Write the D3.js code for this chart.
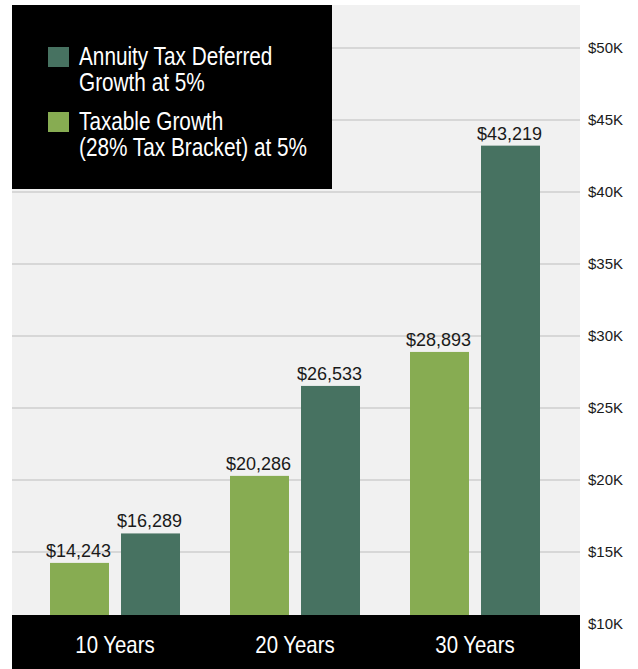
<!DOCTYPE html>
<html>
<head>
<meta charset="utf-8">
<script src="https://cdn.jsdelivr.net/npm/d3@7"></script>
<style>
  body { margin: 0; background: #fff; }
  .narrow { font-family: "Liberation Sans", Arial, sans-serif; }
  .y.axis text { font-family: "Liberation Sans", Arial, sans-serif; font-size: 15px; fill: #1a1a1a; }
</style>
</head>
<body>
<script>
// data
var categories = ["10 Years", "20 Years", "30 Years"];
var taxable = [14243, 20286, 28893];
var annuity = [16289, 26533, 43219];
var yTicks = [10000, 15000, 20000, 25000, 30000, 35000, 40000, 45000, 50000];
var seriesNames = ["Annuity Tax Deferred|Growth at 5%", "Taxable Growth|(28% Tax Bracket) at 5%"];

var W = 638, H = 669;
var plot = {left: 12, right: 580, top: 5, bottom: 615};
var colors = {taxable: "#87ac52", annuity: "#477261"};

// fake a condensed face, no narrow font installed
function condense(squeeze){
    return function(sel){
        sel.each(function(){
            var len = this.getComputedTextLength();
            d3.select(this)
              .attr("textLength", len * squeeze)
              .attr("lengthAdjust", "spacingAndGlyphs");
        });
    };
}

var svg = d3.select("body").append("svg")
    .attr("width", W)
    .attr("height", H);

// plot background
svg.append("rect")
    .attr("x", plot.left).attr("y", plot.top)
    .attr("width", plot.right - plot.left)
    .attr("height", H - plot.top)
    .attr("fill", "#f1f1f1");

var yScale = d3.scaleLinear().domain([10000, 50000]).range([624, 48]);

var x0 = d3.scaleBand()
    .domain(categories)
    .range([25, 565])
    .paddingInner(0.2778)
    .paddingOuter(0.1389);

var x1 = d3.scaleBand()
    .domain(["taxable", "annuity"])
    .range([0, x0.bandwidth()])
    .paddingInner(0.169)
    .paddingOuter(0);

// gridlines
svg.append("g")
    .selectAll("line")
    .data(yTicks.slice(1))
    .enter()
    .append("line")
    .attr("x1", plot.left).attr("x2", plot.right)
    .attr("y1", function(d){ return yScale(d); })
    .attr("y2", function(d){ return yScale(d); })
    .attr("stroke", "#d7d7d7")
    .attr("stroke-width", 2);

// bars
var rows = categories.map(function(c, i){
    return {cat: c, vals: [{key: "taxable", v: taxable[i]}, {key: "annuity", v: annuity[i]}]};
});

var groups = svg.append("g")
    .selectAll("g")
    .data(rows)
    .enter()
    .append("g")
    .attr("transform", function(d){ return "translate(" + x0(d.cat) + ",0)"; });

groups.selectAll("rect")
    .data(function(d){ return d.vals; })
    .enter()
    .append("rect")
    .attr("x", function(d){ return x1(d.key); })
    .attr("width", x1.bandwidth())
    .attr("y", function(d){ return yScale(d.v); })
    .attr("height", function(d){ return yScale(10000) - yScale(d.v); })
    .attr("fill", function(d){ return colors[d.key]; });

groups.selectAll("text")
    .data(function(d){ return d.vals; })
    .enter()
    .append("text")
    .attr("x", function(d){ return x1(d.key) + x1.bandwidth() / 2 - 1; })
    .attr("y", function(d){ return yScale(d.v) - 6; })
    .attr("text-anchor", "middle")
    .style("font-family", "'Liberation Sans', Arial, sans-serif")
    .style("font-size", "18px")
    .attr("fill", "#1a1a1a")
    .text(function(d){ return "$" + d3.format(",")(d.v); });

// black category band
svg.append("rect")
    .attr("x", plot.left).attr("y", plot.bottom)
    .attr("width", plot.right - plot.left)
    .attr("height", H - plot.bottom)
    .attr("fill", "#000");

svg.append("g")
    .selectAll("text")
    .data(categories)
    .enter()
    .append("text")
    .attr("class", "narrow")
    .attr("x", function(d){ return x0(d) + x0.bandwidth() / 2; })
    .attr("y", 653)
    .attr("text-anchor", "middle")
    .attr("fill", "#fff")
    .style("font-size", "24px")
    .text(function(d){ return d; })
    .call(condense(0.85));

// right axis
var yAxis = d3.axisRight(yScale)
    .tickValues(yTicks)
    .tickSize(0)
    .tickPadding(8)
    .tickFormat(function(d){ return "$" + (d / 1000) + "K"; });

svg.append("g")
    .attr("class", "y axis")
    .attr("transform", "translate(" + plot.right + ",0)")
    .call(yAxis)
    .call(function(g){ g.select(".domain").remove(); });

// legend
var legend = svg.append("g");
legend.append("rect")
    .attr("x", 12).attr("y", 5)
    .attr("width", 320).attr("height", 184)
    .attr("fill", "#000");

var legendColors = [colors.annuity, colors.taxable];
seriesNames.forEach(function(name, i){
    var top = 47 + i * 65;
    legend.append("rect")
        .attr("x", 48).attr("y", top)
        .attr("width", 21).attr("height", 20)
        .attr("fill", legendColors[i]);
    name.split("|").forEach(function(line, j){
        legend.append("text")
            .attr("class", "narrow")
            .attr("fill", "#fff")
            .style("font-size", "25px")
            .attr("x", 79)
            .attr("y", top + 18 + j * 26)
            .text(line)
            .call(condense(0.83));
    });
});
</script>
</body>
</html>
